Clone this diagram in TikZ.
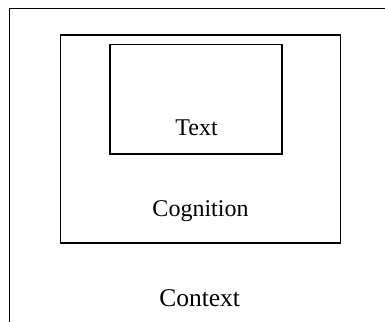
\documentclass[tikz,border=0pt]{standalone}
\usepackage{fontspec}
\setmainfont{Liberation Serif}
\usetikzlibrary{positioning}

\begin{document}
\begin{tikzpicture}[x=1pt, y=1pt, line width=1.1pt,
    box/.style={draw, rectangle, inner sep=0pt},
    lbl/.style={anchor=base, inner sep=0pt}]

  \fontsize{24}{28}\selectfont

  \useasboundingbox (0,0) rectangle (385,321);
  \clip (0,0) rectangle (385,321);

  %% the three boxes
  \node[box, minimum width=390.5pt, minimum height=332.5pt] (context) at (204.75, 146.25) {};
  \node[box, minimum width=280pt, minimum height=208pt] (cognition) at (200.5, 182) {};
  \node[box, minimum width=172pt, minimum height=109.5pt] (text) at (196, 221.75) {};

  %% labels
  \node[lbl] (textlbl) at (196.5, 185.5) {Text};
  \node[lbl] (coglbl) at (200.5, 104) {Cognition};
  \node[lbl, font=\fontsize{25.5}{30}\selectfont] (ctxlbl) at (199.7, 15) {Context};
\end{tikzpicture}
\end{document}
